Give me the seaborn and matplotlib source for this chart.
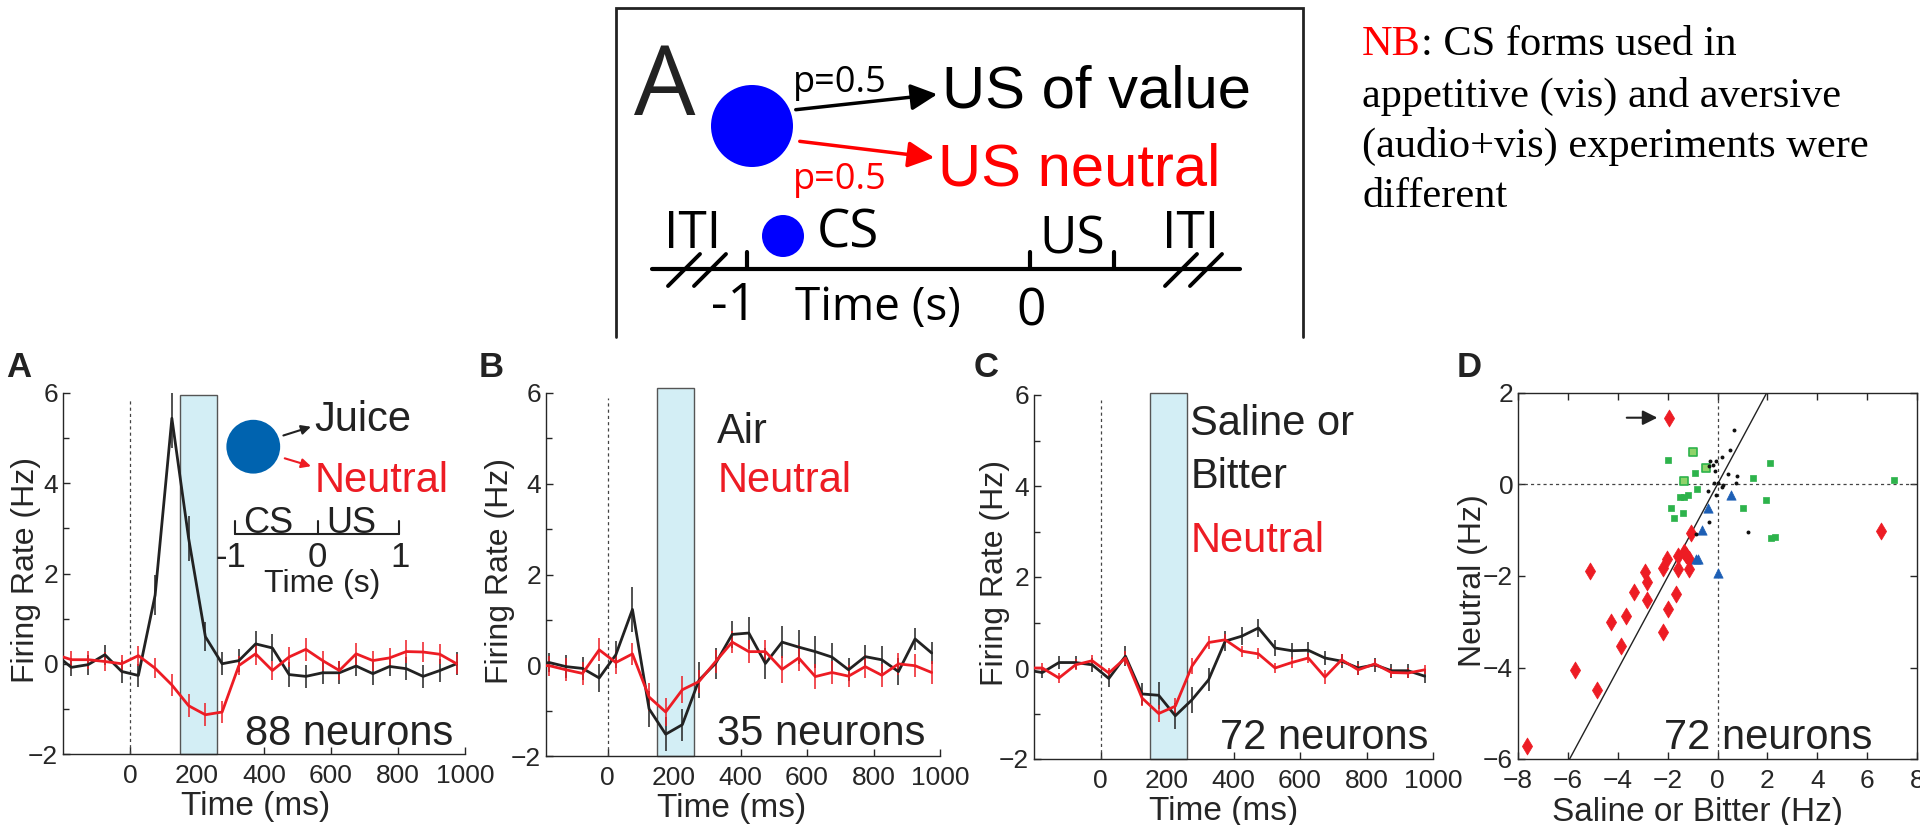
import matplotlib
matplotlib.use("Agg")
import matplotlib.pyplot as plt
from matplotlib.patches import Circle, Rectangle
import seaborn as sns

# ---- data ----
TIME_MS = [-225, -175, -125, -75, -25, 25, 75, 125, 175, 225, 275, 325, 375,
           425, 475, 525, 575, 625, 675, 725, 775, 825, 875, 925, 975]

# panel A: juice vs neutral (88 neurons)
A_JUICE = [0.22, -0.08, -0.02, 0.20, -0.17, -0.26, 1.52, 5.44, 2.78, 0.60, 0.00, 0.07, 0.44,
           0.35, -0.24, -0.28, -0.20, -0.20, -0.05, -0.22, -0.06, -0.11, -0.28, -0.15, 0.00]
A_JUICE_SEM = [0.20, 0.20, 0.22, 0.22, 0.25, 0.25, 0.45, 0.65, 0.50, 0.32, 0.25, 0.25, 0.28,
               0.30, 0.27, 0.25, 0.25, 0.25, 0.22, 0.25, 0.22, 0.25, 0.25, 0.25, 0.25]
A_NEUTRAL = [0.21, 0.09, 0.09, 0.05, 0.00, 0.18, -0.10, -0.47, -0.93, -1.13, -1.07, -0.04, 0.22,
             -0.15, 0.15, 0.32, 0.07, -0.15, 0.22, 0.07, 0.13, 0.27, 0.26, 0.21, 0.00]
A_NEUTRAL_SEM = [0.20, 0.20, 0.20, 0.20, 0.20, 0.22, 0.22, 0.25, 0.25, 0.25, 0.25, 0.22, 0.25,
                 0.22, 0.22, 0.25, 0.22, 0.22, 0.25, 0.22, 0.22, 0.25, 0.22, 0.22, 0.22]

# panel B: air vs neutral (35 neurons)
B_AIR = [0.00, 0.06, -0.03, -0.07, -0.28, 0.23, 1.23, -0.96, -1.52, -1.31, -0.33, 0.04, 0.68,
         0.71, 0.04, 0.51, 0.40, 0.30, 0.18, -0.10, 0.19, 0.12, -0.14, 0.58, 0.27]
B_AIR_SEM = [0.20, 0.20, 0.25, 0.25, 0.30, 0.30, 0.50, 0.40, 0.38, 0.35, 0.40, 0.35, 0.30,
             0.35, 0.35, 0.35, 0.37, 0.35, 0.30, 0.25, 0.25, 0.30, 0.30, 0.25, 0.25]
B_NEUTRAL = [-0.01, -0.01, -0.10, -0.18, 0.34, 0.06, 0.25, -0.70, -1.03, -0.54, -0.36, 0.08, 0.51,
             0.30, 0.30, -0.09, 0.16, -0.25, -0.16, -0.24, -0.03, -0.22, 0.03, -0.01, -0.16]
B_NEUTRAL_SEM = [0.20, 0.22, 0.25, 0.25, 0.25, 0.25, 0.25, 0.30, 0.30, 0.30, 0.25, 0.25, 0.25,
                 0.25, 0.25, 0.30, 0.28, 0.28, 0.25, 0.25, 0.25, 0.25, 0.25, 0.25, 0.25]

# panel C: saline or bitter vs neutral (72 neurons)
C_AVERSIVE = [-0.04, -0.10, 0.12, 0.12, 0.07, -0.23, 0.26, -0.57, -0.60, -1.05, -0.70, -0.26, 0.59,
              0.70, 0.88, 0.44, 0.38, 0.39, 0.22, 0.15, 0.00, 0.07, -0.06, -0.06, -0.18]
C_AVERSIVE_SEM = [0.12, 0.12, 0.15, 0.15, 0.15, 0.18, 0.22, 0.25, 0.30, 0.28, 0.28, 0.25, 0.22,
                  0.20, 0.20, 0.18, 0.18, 0.18, 0.15, 0.15, 0.15, 0.15, 0.15, 0.15, 0.15]
C_NEUTRAL = [0.00, 0.00, -0.22, 0.07, 0.16, -0.11, 0.22, -0.66, -1.00, -0.84, 0.04, 0.56, 0.62,
             0.37, 0.31, 0.00, 0.12, 0.22, -0.20, 0.18, -0.04, 0.09, -0.10, -0.11, -0.04]
C_NEUTRAL_SEM = [0.10, 0.10, 0.12, 0.12, 0.12, 0.12, 0.15, 0.18, 0.18, 0.18, 0.18, 0.15, 0.12,
                 0.12, 0.12, 0.12, 0.12, 0.12, 0.15, 0.12, 0.12, 0.10, 0.10, 0.10, 0.10]

# panel D: per-neuron responses, saline/bitter vs neutral
D_RED_X = [-1.96, 6.57, -1.07, -1.33, -1.27, -1.57, -1.16, -2.04, -2.17, -1.60, -1.13, -2.92, -5.11,
           -2.83, -3.36, -1.67, -2.83, -1.97, -3.68, -4.29, -2.20, -3.88, -5.73, -4.84, -7.64]
D_RED_Y = [1.46, -1.01, -1.06, -1.47, -1.54, -1.56, -1.62, -1.63, -1.82, -1.84, -1.84, -1.91, -1.89,
           -2.13, -2.35, -2.40, -2.53, -2.72, -2.87, -3.01, -3.22, -3.53, -4.05, -4.49, -5.71]
D_GREEN_X = [-2.00, -0.92, -0.84, -1.51, -1.33, -1.20, -1.87, -1.40, -1.76,
             1.44, 2.12, 1.04, 1.96, 2.13, 2.29, 7.08]
D_GREEN_Y = [0.53, 0.26, -0.09, -0.28, -0.28, -0.24, -0.52, -0.63, -0.74,
             0.15, 0.46, -0.52, -0.33, -1.18, -1.14, 0.09]
D_LGREEN_X = [-0.97, -0.47, -1.33]
D_LGREEN_Y = [0.71, 0.35, 0.08]
D_BLUE_X = [0.53, -0.39, -0.61, -0.87, -0.80, 0.04]
D_BLUE_Y = [-0.23, -0.51, -1.00, -1.62, -1.62, -1.93]
D_BLACK_X = [0.68, 0.49, 0.17, -0.31, -0.07, -0.20, -0.36, -0.12, 0.44, 0.77,
             -0.13, 0.04, 0.76, 0.23, 0.17, -0.39, -0.07, -0.33, -0.87, 1.24]
D_BLACK_Y = [1.20, 0.76, 0.60, 0.51, 0.52, 0.42, 0.41, 0.29, 0.24, 0.19,
             0.04, 0.04, 0.04, -0.01, -0.05, -0.14, -0.23, -0.82, -1.09, -1.04]
D_FIT_X = [-5.93, 1.97]
D_FIT_Y = [-6.0, 2.0]

RED = "#ed1c24"
GREEN = "#2db34b"
BLUE = "#1d5fb5"
BOX = "#d3eef5"

sns.set_style("ticks")
plt.rcParams["font.family"] = ["Liberation Sans", "DejaVu Sans"]
plt.rcParams["axes.linewidth"] = 1.0

W, H = 1920, 825
fig = plt.figure(figsize=(19.2, 8.25), dpi=100)


def px_axes(left, right, top, bottom):
    return fig.add_axes([left / W, 1 - bottom / H, (right - left) / W, (bottom - top) / H])


# overlay in pixel coords for schematic and letters
ov = fig.add_axes([0, 0, 1, 1])
ov.set_xlim(0, W)
ov.set_ylim(H, 0)
ov.axis("off")


def psth_panel(ax, black, black_sem, red, red_sem, xmin, box_top, n_text, ylabel_x, xlabel_x):
    ax.errorbar(TIME_MS, black, yerr=black_sem, fmt="none", ecolor="#222222", elinewidth=1.1, capsize=0, zorder=3)
    ax.errorbar(TIME_MS, red, yerr=red_sem, fmt="none", ecolor=RED, elinewidth=1.1, capsize=0, zorder=3)
    sns.lineplot(x=TIME_MS, y=black, ax=ax, color="#222222", lw=2.0, zorder=4)
    sns.lineplot(x=TIME_MS, y=red, ax=ax, color=RED, lw=2.0, zorder=4)
    ax.add_patch(Rectangle((148, -2), 112, box_top + 2, facecolor=BOX, edgecolor="#555555",
                           lw=1.0, zorder=1, clip_on=False))
    ax.plot([0, 0], [-2, 5.9], ls=(0, (2.5, 2.5)), color="#444444", lw=0.9, zorder=2)
    ax.set_xlim(xmin, 1000)
    ax.set_ylim(-2, 6)
    ax.set_xticks([0, 200, 400, 600, 800, 1000])
    ax.set_yticks([-2, 0, 2, 4, 6])
    ax.set_yticks([-1, 1, 3, 5], minor=True)
    ax.tick_params(which="both", direction="in", labelsize=19, width=1)
    ax.tick_params(axis="x", pad=7, length=5)
    ax.tick_params(axis="y", which="major", length=5)
    ax.tick_params(axis="y", which="minor", length=4)
    sns.despine(ax=ax)
    ax.set_facecolor("none")
    ax.set_xlabel("Time (ms)", fontsize=24)
    ax.set_ylabel("Firing Rate (Hz)", fontsize=23)
    ax.xaxis.set_label_coords(xlabel_x, -0.145)
    ax.xaxis.label.set_va("center")
    ax.yaxis.set_label_coords(ylabel_x, 0.51)
    ax.yaxis.label.set_va("center")
    ax.text(n_text[0], n_text[1], n_text[2], fontsize=30, ha="right", va="baseline", color="#222222", zorder=5)


# ---- panel A ----
axA = px_axes(63, 465, 393, 754)
psth_panel(axA, A_JUICE, A_JUICE_SEM, A_NEUTRAL, A_NEUTRAL_SEM, -200, 5.95,
           (965, -1.8, "88 neurons"), -0.092, 0.48)
axA.scatter([368], [4.81], s=1500, color="#0063af", edgecolor="none", zorder=5, clip_on=False)
axA.annotate("", xy=(548, 5.27), xytext=(450, 5.04),
             arrowprops=dict(arrowstyle="-|>", color="#222222", lw=1.5, mutation_scale=14))
axA.annotate("", xy=(548, 4.36), xytext=(454, 4.57),
             arrowprops=dict(arrowstyle="-|>", color=RED, lw=1.5, mutation_scale=14))
axA.text(550, 5.15, "Juice", fontsize=30, va="baseline", color="#222222")
axA.text(550, 3.81, "Neutral", fontsize=30, va="baseline", color=RED)
# small CS/US timeline inset
axA.plot([313, 804], [2.87, 2.87], color="#222222", lw=1.5)
for tx in [313, 560, 804]:
    axA.plot([tx, tx], [2.87, 3.17], color="#222222", lw=1.5)
axA.text(337, 2.9, "CS", fontsize=26, va="baseline", color="#222222")
axA.text(585, 2.9, "US", fontsize=26, va="baseline", color="#222222")
axA.text(300, 2.15, "-1", fontsize=25, ha="center", va="baseline", color="#222222")
axA.text(560, 2.15, "0", fontsize=25, ha="center", va="baseline", color="#222222")
axA.text(806, 2.15, "1", fontsize=25, ha="center", va="baseline", color="#222222")
axA.text(575, 1.58, "Time (s)", fontsize=23, ha="center", va="baseline", color="#222222")

# ---- panel B ----
axB = px_axes(546, 940, 393, 756)
psth_panel(axB, B_AIR, B_AIR_SEM, B_NEUTRAL, B_NEUTRAL_SEM, -185, 6.1,
           (955, -1.75, "35 neurons"), -0.117, 0.47)
axB.text(330, 4.9, "Air", fontsize=30, va="baseline", color="#222222")
axB.text(330, 3.82, "Neutral", fontsize=30, va="baseline", color=RED)

# ---- panel C ----
axC = px_axes(1034, 1433, 395, 759)
psth_panel(axC, C_AVERSIVE, C_AVERSIVE_SEM, C_NEUTRAL, C_NEUTRAL_SEM, -200, 6.05,
           (985, -1.78, "72 neurons"), -0.098, 0.474)
axC.text(270, 5.12, "Saline or", fontsize=30, va="baseline", color="#222222")
axC.text(270, 3.96, "Bitter", fontsize=30, va="baseline", color="#222222")
axC.text(270, 2.55, "Neutral", fontsize=30, va="baseline", color=RED)

# ---- panel D ----
axD = px_axes(1518, 1917, 393, 759)
axD.axhline(0, ls=(0, (2.5, 2.5)), color="#444444", lw=0.9, zorder=1)
axD.axvline(0, ls=(0, (2.5, 2.5)), color="#444444", lw=0.9, zorder=1)
axD.plot(D_FIT_X, D_FIT_Y, color="#222222", lw=1.0, zorder=2)
sns.scatterplot(x=D_RED_X, y=D_RED_Y, ax=axD, marker="d", s=75, color=RED, edgecolor=RED, linewidth=0.5, zorder=3)
sns.scatterplot(x=D_GREEN_X, y=D_GREEN_Y, ax=axD, marker="s", s=22, color=GREEN, edgecolor=GREEN, linewidth=0.5, zorder=3)
sns.scatterplot(x=D_LGREEN_X, y=D_LGREEN_Y, ax=axD, marker="s", s=30, color="#8fd36a", edgecolor=GREEN, linewidth=1.2, zorder=3)
sns.scatterplot(x=D_BLUE_X, y=D_BLUE_Y, ax=axD, marker="^", s=45, color=BLUE, edgecolor=BLUE, linewidth=0.5, zorder=3)
sns.scatterplot(x=D_BLACK_X, y=D_BLACK_Y, ax=axD, marker="o", s=8, color="#111111", edgecolor="#111111", linewidth=0, zorder=3)
axD.annotate("", xy=(-2.3, 1.46), xytext=(-3.75, 1.46),
             arrowprops=dict(arrowstyle="-|>", color="#222222", lw=1.5, mutation_scale=22))
axD.set_xlim(-8, 8)
axD.set_ylim(-6, 2)
axD.set_xticks(range(-8, 9, 2))
axD.set_yticks([-6, -4, -2, 0, 2])
axD.tick_params(direction="in", top=True, right=True, labelsize=19, length=5, width=1)
axD.tick_params(axis="x", pad=7)
axD.set_facecolor("none")
axD.set_xlabel("Saline or Bitter (Hz)", fontsize=24)
axD.set_ylabel("Neutral (Hz)", fontsize=23)
axD.xaxis.set_label_coords(0.45, -0.145)
axD.xaxis.label.set_va("center")
axD.yaxis.set_label_coords(-0.1125, 0.486)
axD.yaxis.label.set_va("center")
axD.text(6.2, -5.78, "72 neurons", fontsize=30, ha="right", va="baseline", color="#222222", zorder=0)

# panel letters
for lx, letter in [(6, "A"), (479, "B"), (974, "C"), (1457, "D")]:
    ov.text(lx, 377, letter, fontsize=25, fontweight="bold", va="baseline", color="#222222")

# ---- schematic (top) ----
SF = ["Open Sans", "DejaVu Sans"]
ov.plot([616, 616, 1303, 1303], [337, 8, 8, 337], color="#222222", lw=2.0, solid_joinstyle="miter")
ov.text(634, 115, "A", fontsize=70, family=SF, va="baseline", color="#222222")
ov.add_patch(Circle((752, 126), 41, color="#0000ff", lw=0))
ov.add_patch(Circle((783, 236), 21, color="#0000ff", lw=0))
ov.annotate("", xy=(940, 94), xytext=(793, 110),
            arrowprops=dict(arrowstyle="-|>", color="black", lw=2.5, mutation_scale=40))
ov.annotate("", xy=(937, 158), xytext=(797, 141),
            arrowprops=dict(arrowstyle="-|>", color="#ff0000", lw=2.5, mutation_scale=40))
ov.text(793, 92, "p=0.5", fontsize=26, family=SF, va="baseline", color="black")
ov.text(793, 189, "p=0.5", fontsize=26, family=SF, va="baseline", color="#ff0000")
ov.text(942, 108, "US of value", fontsize=43, va="baseline", color="black")
ov.text(938, 185, "US neutral", fontsize=43, va="baseline", color="#ff0000")
# trial timeline
ov.plot([652, 1240], [269, 269], color="black", lw=3.0)
for tx in [747, 1030, 1114]:
    ov.plot([tx, tx], [252, 269], color="black", lw=3.0)
for x0 in [668, 694, 1165, 1190]:
    ov.plot([x0, x0 + 32], [286, 254], color="black", lw=2.8)
ov.text(664, 248, "ITI", fontsize=37, family=SF, va="baseline", color="black")
ov.text(1162, 248, "ITI", fontsize=37, family=SF, va="baseline", color="black")
ov.text(817, 248, "CS", fontsize=38, family=SF, va="baseline", color="black")
ov.text(1039, 253, "US", fontsize=37, family=SF, va="baseline", color="black")
ov.text(734, 320, "-1", fontsize=37, family=SF, ha="center", va="baseline", color="black")
ov.text(878, 320, "Time (s)", fontsize=33, family=SF, ha="center", va="baseline", color="black")
ov.text(1031, 325, "0", fontsize=37, family=SF, ha="center", va="baseline", color="black")

# note on the right
NF = ["Liberation Serif", "DejaVu Serif"]
nb = ov.text(1362, 55, "NB", fontsize=30.5, family=NF, va="baseline", color="#ff0000")
fig.canvas.draw()
bb = nb.get_window_extent()
ov.text(1362 + bb.width, 55, ": CS forms used in", fontsize=30.5, family=NF, va="baseline", color="black")
for yb, line in [(107, "appetitive (vis) and aversive"),
                 (157, "(audio+vis) experiments were"),
                 (207, "different")]:
    ov.text(1362, yb, line, fontsize=30.5, family=NF, va="baseline", color="black")

fig.savefig("out.png", dpi=100)
